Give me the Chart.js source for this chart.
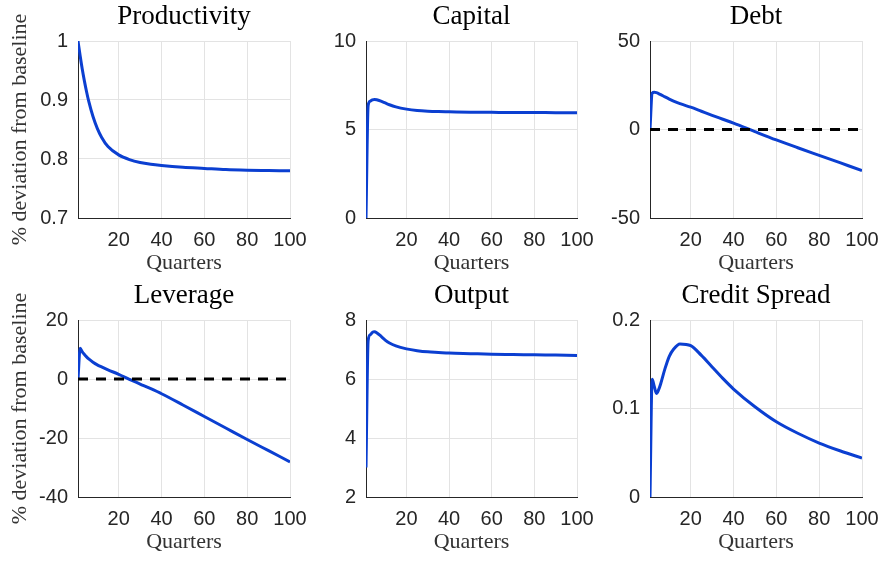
<!DOCTYPE html>
<html>
<head>
<meta charset="utf-8">
<script src="https://cdn.jsdelivr.net/npm/chart.js@4"></script>
<style>
  body { margin: 0; background: #fff; overflow: hidden; }
  #wrap { position: relative; width: 881px; height: 561px; }
  canvas { position: absolute; }
</style>
</head>
<body>
<div id="wrap"></div>
<script>
const quarters = [1, 2, 3, 4, 5, 6, 8, 10, 12, 15, 20, 25, 30, 35, 40, 50, 60, 70, 80, 90, 100];

const productivity = [1.0, 0.975, 0.952, 0.932, 0.914, 0.898, 0.872, 0.852, 0.837, 0.821, 0.807, 0.799, 0.794, 0.791, 0.789, 0.786, 0.784, 0.782, 0.781, 0.7805, 0.780];
const capital = [0, 6.35, 6.6, 6.68, 6.7, 6.68, 6.6, 6.5, 6.4, 6.28, 6.15, 6.07, 6.03, 6.01, 6.0, 5.98, 5.97, 5.96, 5.96, 5.95, 5.95];
const debt = [0, 20.5, 21.0, 20.8, 20.3, 19.7, 18.4, 17.2, 16.1, 14.6, 12.6, 10.3, 8.0, 5.8, 3.6, -1.2, -5.9, -10.3, -14.6, -18.9, -23.2];
const leverage = [0, 10.4, 9.2, 8.3, 7.5, 6.8, 5.7, 4.8, 4.1, 3.1, 1.6, -0.1, -1.7, -3.3, -5.0, -8.8, -12.7, -16.6, -20.5, -24.3, -28.1];
const output = [3.0, 7.3, 7.5, 7.58, 7.6, 7.57, 7.45, 7.32, 7.22, 7.12, 7.02, 6.96, 6.92, 6.9, 6.88, 6.86, 6.84, 6.83, 6.82, 6.81, 6.80];
const creditSpread = [0, 0.133, 0.125, 0.117, 0.121, 0.128, 0.145, 0.159, 0.167, 0.173, 0.171, 0.160, 0.147, 0.134, 0.122, 0.102, 0.085, 0.072, 0.061, 0.052, 0.044];

// zero reference line for Debt and Leverage
const zeroQuarters = [1, 100];
const zeroValues = [0, 0];

const xTicks = [20, 40, 60, 80, 100];
const prodTicks = [0.7, 0.8, 0.9, 1];
const capitalTicks = [0, 5, 10];
const debtTicks = [-50, 0, 50];
const leverageTicks = [-40, -20, 0, 20];
const outputTicks = [2, 4, 6, 8];
const spreadTicks = [0, 0.1, 0.2];

const panels = [
  { title: 'Productivity', values: productivity, ticks: prodTicks, zero: false },
  { title: 'Capital', values: capital, ticks: capitalTicks, zero: false },
  { title: 'Debt', values: debt, ticks: debtTicks, zero: true },
  { title: 'Leverage', values: leverage, ticks: leverageTicks, zero: true },
  { title: 'Output', values: output, ticks: outputTicks, zero: false },
  { title: 'Credit Spread', values: creditSpread, ticks: spreadTicks, zero: false }
];

// plot area positions in the page
const plotLeft = [78, 366, 650];
const plotRight = [290, 577, 862];
const plotTop = [41, 320];
const plotBottom = [218, 497];

const serif = "'Liberation Serif', 'Times New Roman', serif";
const sans = "'Liberation Sans', Arial, sans-serif";
const axisColor = '#262626';
const gridColor = '#e3e3e3';
const lineColor = '#0b3fd1';

const wrap = document.getElementById('wrap');

panels.forEach((p, i) => {
  const col = i % 3, row = Math.floor(i / 3);
  const yW = col === 0 ? 78 : 60;
  const left = plotLeft[col] - yW;
  const top = plotTop[row] - 40;
  const width = plotRight[col] - left + 18;
  const height = plotBottom[row] + 60 - top;

  const canvas = document.createElement('canvas');
  canvas.width = width;
  canvas.height = height;
  canvas.style.left = left + 'px';
  canvas.style.top = top + 'px';
  wrap.appendChild(canvas);

  const datasets = [{
    data: quarters.map((q, k) => ({ x: q, y: p.values[k] })),
    borderColor: lineColor,
    borderWidth: 3,
    pointRadius: 0,
    cubicInterpolationMode: 'monotone',
    order: 1
  }];
  if (p.zero) {
    datasets.push({
      data: zeroQuarters.map((q, k) => ({ x: q, y: zeroValues[k] })),
      borderColor: '#000',
      borderWidth: 3,
      borderDash: [10, 8],
      pointRadius: 0,
      order: 0
    });
  }

  new Chart(canvas.getContext('2d'), {
    type: 'line',
    data: { datasets: datasets },
    options: {
      responsive: false,
      animation: false,
      layout: { padding: { left: 0, right: 18, top: 0, bottom: 0 } },
      plugins: {
        legend: { display: false },
        tooltip: { enabled: false },
        title: {
          display: true,
          text: p.title,
          fullSize: false,
          color: '#000',
          font: { family: serif, size: 27, weight: 'normal', lineHeight: 1.2 },
          padding: { top: 0, bottom: 7.6 }
        }
      },
      scales: {
        x: {
          type: 'linear',
          min: 1,
          max: 100,
          afterBuildTicks: s => { s.ticks = xTicks.map(v => ({ value: v })); },
          afterFit: s => { s.height = 60; s.paddingLeft = 0; s.paddingRight = 0; },
          ticks: { color: axisColor, padding: 10, font: { family: sans, size: 20 } },
          grid: { color: gridColor, drawTicks: false },
          border: { color: axisColor, width: 1 },
          title: {
            display: true,
            text: 'Quarters',
            color: '#333',
            font: { family: serif, size: 22, lineHeight: 1.2 },
            padding: { top: 0, bottom: 2 }
          }
        },
        y: {
          min: p.ticks[0],
          max: p.ticks[p.ticks.length - 1],
          afterBuildTicks: s => { s.ticks = p.ticks.map(v => ({ value: v })); },
          afterFit: s => { s.width = yW; },
          ticks: { color: axisColor, padding: 10, font: { family: sans, size: 20 }, callback: v => String(v) },
          grid: { color: gridColor, drawTicks: false },
          border: { color: axisColor, width: 1 },
          title: {
            display: col === 0,
            text: '% deviation from baseline',
            color: '#333',
            font: { family: serif, size: 22, lineHeight: 1.2 },
            padding: { top: 7, bottom: 0 }
          }
        }
      }
    }
  });
});
</script>
</body>
</html>
